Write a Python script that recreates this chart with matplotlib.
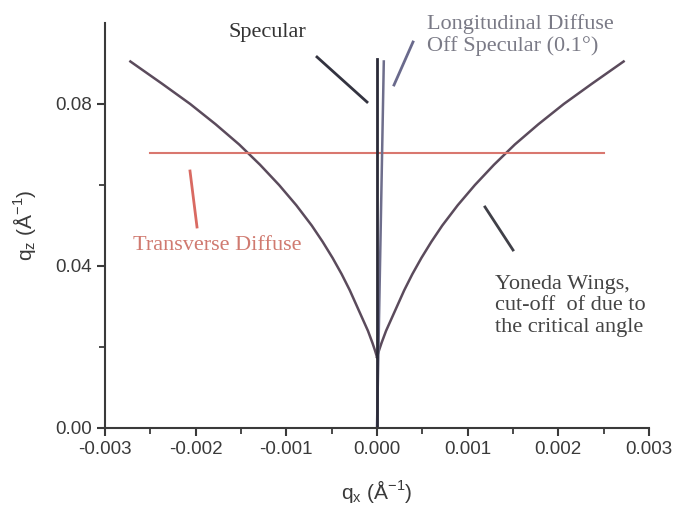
import matplotlib
matplotlib.use('Agg')
import matplotlib.pyplot as plt
from matplotlib.ticker import MultipleLocator, FixedLocator, FormatStrFormatter
from matplotlib.lines import Line2D
import numpy as np

plt.rcParams['axes.unicode_minus'] = False

# Yoneda wing (right side), left side is the mirror image
wing_qz = [0.0175, 0.019, 0.021, 0.024, 0.027, 0.03, 0.034, 0.038, 0.042, 0.046,
           0.05, 0.055, 0.06, 0.065, 0.07, 0.075, 0.08, 0.085, 0.0905]
wing_qx = [0.0, 0.00002, 0.00005, 0.0001, 0.00016, 0.00022, 0.0003, 0.00039, 0.00049, 0.0006,
           0.00072, 0.00089, 0.00108, 0.00129, 0.00152, 0.00178, 0.00206, 0.00237, 0.00272]

# specular rod and longitudinal off-specular (0.1 deg) scan
spec_qx = [0.0, 0.0]
spec_qz = [0.0, 0.091]
offspec_qx = [0.0, 0.000075]
offspec_qz = [0.0, 0.0905]

# transverse diffuse scan
trans_qx = [-0.0025, 0.0025]
trans_qz = [0.068, 0.068]

W, H = 675, 509
fig = plt.figure(figsize=(6.75, 5.09), dpi=100)
ax = fig.add_axes([105 / W, 1 - 428 / H, (649 - 105) / W, (428 - 23) / H])

wing_col = '#5b4b5c'
ax.plot(wing_qx, wing_qz, color=wing_col, lw=1.8, clip_on=False)
ax.plot(-np.array(wing_qx), wing_qz, color=wing_col, lw=1.8, clip_on=False)
ax.plot(trans_qx, trans_qz, color='#d9776f', lw=1.5)
ax.plot(offspec_qx, offspec_qz, color='#6e6e8c', lw=1.8)
ax.plot(spec_qx, spec_qz, color='#2a2a38', lw=2.0)

ax.set_xlim(-0.003, 0.003)
ax.set_ylim(0.0, 0.1)
ax.xaxis.set_major_locator(MultipleLocator(0.001))
ax.xaxis.set_minor_locator(MultipleLocator(0.0005))
ax.xaxis.set_major_formatter(FormatStrFormatter('%.3f'))
ax.yaxis.set_major_locator(FixedLocator([0.0, 0.04, 0.08]))
ax.yaxis.set_minor_locator(FixedLocator([0.02, 0.06]))
ax.yaxis.set_major_formatter(FormatStrFormatter('%.2f'))

for s in ['top', 'right']:
    ax.spines[s].set_visible(False)
for s in ['left', 'bottom']:
    ax.spines[s].set_color('#3a3a3a')
    ax.spines[s].set_linewidth(1.5)
ax.tick_params(which='major', direction='out', length=6, width=1.5, color='#3a3a3a',
               labelsize=13.5, labelcolor='#3a3a3a')
ax.tick_params(which='minor', direction='out', length=4, width=1.3, color='#3a3a3a')
for lab in ax.get_xticklabels() + ax.get_yticklabels():
    lab.set_family('Liberation Sans')

ax.set_xlabel(r'q$_\mathregular{x}$ (Å$^\mathregular{-1}$)', family='Liberation Sans',
              fontsize=15, color='#3a3a3a', labelpad=14)
ax.set_ylabel(r'q$_\mathregular{z}$ (Å$^\mathregular{-1}$)', family='Liberation Sans',
              fontsize=15, color='#3a3a3a', labelpad=12)


def fp(px, py):
    return px / W, 1 - py / H


def seg(p0, p1, col, lw=2.0):
    a, b = fp(*p0), fp(*p1)
    fig.add_artist(Line2D([a[0], b[0]], [a[1], b[1]], color=col, lw=lw,
                          transform=fig.transFigure))


serif = 'Liberation Serif'
fig.text(*fp(267, 32), 'Specular', family=serif, fontsize=16, color='#333333',
         ha='center', va='center')
seg((317, 57), (367, 102), '#333340')

fig.text(*fp(427, 35), 'Longitudinal Diffuse\nOff Specular (0.1°)', family=serif,
         fontsize=16, color='#7a7a86', ha='left', va='center', linespacing=1.1)
seg((413, 42), (394, 85), '#6a6a8c')

fig.text(*fp(217, 246), 'Transverse Diffuse', family=serif, fontsize=16,
         color='#d07a70', ha='center', va='center')
seg((190, 171), (197, 227), '#d96a62')

fig.text(*fp(495, 306), 'Yoneda Wings,\ncut-off  of due to\nthe critical angle',
         family=serif, fontsize=16, color='#444444', ha='left', va='center',
         linespacing=1.2)
seg((485, 207), (513, 250), '#404048')

fig.savefig('out.png', dpi=100)
